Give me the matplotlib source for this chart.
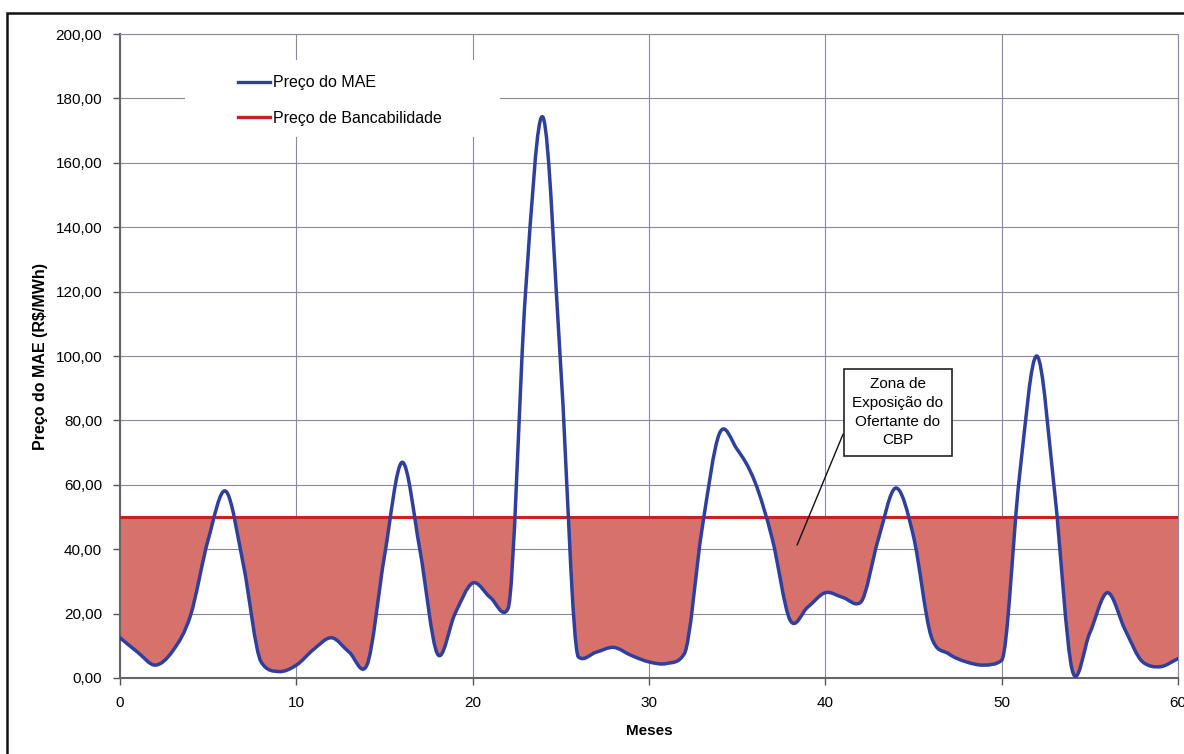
import numpy as np
import matplotlib
matplotlib.use("Agg")
import matplotlib.pyplot as plt
from matplotlib.path import Path
from matplotlib.patches import PathPatch, Rectangle
from matplotlib.lines import Line2D
from matplotlib.ticker import FuncFormatter, MultipleLocator

plt.rcParams['font.family'] = ['Liberation Sans', 'DejaVu Sans']

# meses e preco do MAE em R$/MWh
meses = list(range(61))
preco_mae = [12.5, 8.0, 4.0, 8.5, 19.5, 43.0, 58.0, 35.0, 5.0, 2.0,
             4.0, 9.0, 12.5, 8.0, 4.0, 38.0, 67.0, 40.0, 7.5, 20.0,
             29.5, 25.0, 21.5, 120.0, 174.0, 96.0, 6.5, 8.0, 9.5, 7.0,
             5.0, 4.5, 7.5, 46.0, 76.0, 71.0, 61.0, 43.0, 18.0, 22.0,
             26.5, 25.0, 23.5, 43.0, 59.0, 44.0, 13.0, 7.5, 5.0, 4.0,
             5.5, 62.0, 100.0, 58.0, 2.5, 14.0, 26.5, 15.0, 5.0, 3.5,
             6.0]
preco_bancabilidade = 50.0

legenda = ["Preço do MAE", "Preço de Bancabilidade"]
nota = "Zona de\nExposição do\nOfertante do\nCBP"

azul = "#2f3f9e"
vermelho = "#c8221e"
rosa = "#d6716c"
grade = "#8a86a6"


def curva_suave(x, y):
    # linha suavizada: bezier cubica, tangentes catmull-rom com limitador
    x = np.asarray(x, float)
    y = np.asarray(y, float)
    h = np.diff(x)
    d = np.diff(y) / h
    m = np.zeros_like(y)
    m[0], m[-1] = d[0], d[-1]
    for k in range(1, len(y) - 1):
        lim = 3 * min(abs(d[k - 1]), abs(d[k]))
        m[k] = np.clip((d[k - 1] + d[k]) / 2, -lim, lim)
    verts = [(x[0], y[0])]
    codes = [Path.MOVETO]
    for i in range(len(x) - 1):
        verts += [(x[i] + h[i] / 3, y[i] + m[i] * h[i] / 3),
                  (x[i + 1] - h[i] / 3, y[i + 1] - m[i + 1] * h[i] / 3),
                  (x[i + 1], y[i + 1])]
        codes += [Path.CURVE4] * 3
    return verts, codes


fig = plt.figure(figsize=(11.84, 7.54), dpi=100)
ax = fig.add_axes([0.1014, 0.1008, 0.8935, 0.8541])

# moldura externa
fig.patches.append(Rectangle((7 / 1184, -0.05), 1.2, 1 - 13 / 754 + 0.05,
                             transform=fig.transFigure, fill=False,
                             edgecolor="#111111", linewidth=1.8))

verts, codes = curva_suave(meses, preco_mae)

# zona abaixo do preco de bancabilidade
zona = Path(verts + [(meses[-1], preco_bancabilidade),
                     (meses[0], preco_bancabilidade), (0, 0)],
            codes + [Path.LINETO, Path.LINETO, Path.CLOSEPOLY])
area = PathPatch(zona, facecolor=rosa, edgecolor="none", zorder=2)
ax.add_patch(area)
area.set_clip_path(Rectangle((meses[0], -20), meses[-1] - meses[0],
                             preco_bancabilidade + 20, transform=ax.transData))

ax.axhline(preco_bancabilidade, color=vermelho, linewidth=2.2, zorder=3)
ax.add_patch(PathPatch(Path(verts, codes), facecolor="none", edgecolor=azul,
                       linewidth=2.5, zorder=4, capstyle="round",
                       joinstyle="round"))

ax.set_xlim(0, 60)
ax.set_ylim(0, 200)
ax.xaxis.set_major_locator(MultipleLocator(10))
ax.yaxis.set_major_locator(MultipleLocator(20))
ax.yaxis.set_major_formatter(FuncFormatter(lambda v, _: f"{v:.2f}".replace(".", ",")))
ax.grid(True, color=grade, linewidth=0.8, zorder=0)
ax.set_axisbelow(True)
ax.tick_params(labelsize=11, length=5, width=1, color="#555555", pad=8)
for s in ["top", "right"]:
    ax.spines[s].set_color(grade)
    ax.spines[s].set_linewidth(0.8)
for s in ["left", "bottom"]:
    ax.spines[s].set_color("#666666")
    ax.spines[s].set_linewidth(1.5)

ax.set_xlabel("Meses", fontsize=11, fontweight="bold", labelpad=10)
ax.set_ylabel("Preço do MAE (R$/MWh)", fontsize=11.5, fontweight="bold", labelpad=5)

# fundo branco da legenda
ax.add_patch(Rectangle((0.0614, 0.84), 0.298, 0.12, transform=ax.transAxes,
                       facecolor="white", edgecolor="none", zorder=1))
handles = [Line2D([], [], color=azul, linewidth=2.4),
           Line2D([], [], color=vermelho, linewidth=2.4)]
ax.legend(handles, legenda, loc="upper left", bbox_to_anchor=(0.1115, 0.936),
          frameon=False, fontsize=11.5, borderpad=0, borderaxespad=0,
          handlelength=2.0, handletextpad=0.2, labelspacing=1.3)

ax.annotate(nota, xy=(38.4, 41.3), xytext=(44.1, 82.5), ha="center", va="center",
            fontsize=11, linespacing=1.42,
            bbox=dict(boxstyle="square,pad=0.55", facecolor="white",
                      edgecolor="#222222", linewidth=1.2),
            arrowprops=dict(arrowstyle="-", color="#111111", linewidth=1.0,
                            relpos=(0, 0.5), shrinkA=0, shrinkB=0),
            zorder=6)

fig.savefig("out.png", dpi=100)
